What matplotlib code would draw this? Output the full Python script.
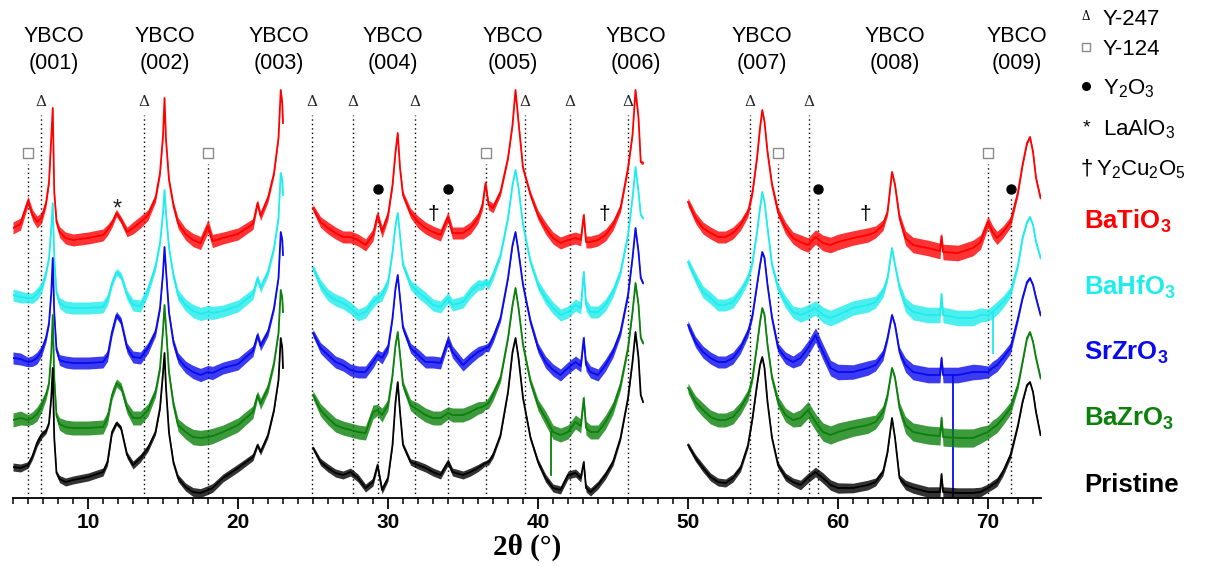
import matplotlib
matplotlib.use("Agg")
import matplotlib.pyplot as plt
from matplotlib.ticker import MultipleLocator, FixedLocator
import numpy as np

plt.rcParams['font.family'] = ['Liberation Sans', 'DejaVu Sans']
plt.rcParams['mathtext.fontset'] = 'custom'
plt.rcParams['mathtext.rm'] = 'Liberation Sans'
plt.rcParams['mathtext.bf'] = 'Liberation Sans:bold'
plt.rcParams['mathtext.it'] = 'Liberation Sans:italic'

# ---------------- data (2theta in degrees, intensity in arbitrary offset units) -------------
two_theta_1 = [5.0, 5.5, 6.0, 6.3, 6.6, 6.9, 7.2, 7.4, 7.55, 7.65, 7.75, 7.9, 8.1, 8.5, 9.0, 10.0,
               11.0, 11.3, 11.6, 11.9, 12.2, 12.6, 13.0, 13.5, 14.0, 14.5, 14.8, 15.0, 15.1, 15.2,
               15.4, 15.7, 16.0, 16.5, 17.0, 17.5, 18.0, 18.3, 19.0, 20.0, 21.0, 21.3, 21.5, 22.0,
               22.4, 22.7, 22.85, 22.95, 23.0]
batio3_1 = [270, 274, 297, 283, 276, 280, 295, 316, 360, 390, 306, 276, 266, 260, 258, 260, 263, 268,
            275, 285, 278, 266, 270, 276, 283, 300, 325, 362, 400, 358, 318, 292, 275, 264, 258, 255,
            272, 257, 260, 264, 274, 295, 282, 300, 325, 360, 408, 395, 375]
bahfo3_1 = [203, 201, 200, 200, 204, 210, 225, 240, 270, 295, 240, 205, 195, 191, 190, 190, 191, 198,
            215, 226, 222, 203, 193, 192, 208, 232, 255, 285, 308, 285, 250, 222, 203, 193, 187, 184,
            186, 185, 187, 192, 204, 220, 210, 226, 250, 280, 325, 318, 303]
srzro3_1 = [140, 139, 136, 137, 140, 147, 160, 175, 205, 240, 185, 148, 138, 136, 135, 135, 136, 142,
            166, 183, 177, 150, 141, 140, 150, 166, 190, 225, 251, 228, 185, 155, 140, 131, 126, 123,
            126, 125, 130, 134, 147, 163, 152, 166, 190, 220, 266, 258, 243]
bazro3_1 = [78, 80, 78, 80, 84, 92, 103, 115, 145, 183, 120, 82, 74, 71, 70, 70, 71, 80, 103, 115, 111,
            90, 80, 80, 88, 106, 130, 168, 193, 170, 125, 93, 73, 66, 61, 60, 61, 62, 66, 73, 86, 103,
            94, 110, 135, 165, 208, 200, 186]
pristine_1 = [31, 30, 33, 42, 55, 63, 67, 75, 100, 130, 60, 25, 19, 16, 18, 21, 26, 36, 66, 75, 70, 43,
              33, 40, 50, 66, 90, 125, 145, 110, 65, 35, 20, 11, 6, 5, 8, 10, 20, 30, 41, 53, 46, 63,
              88, 118, 160, 150, 130]
noise_1 = [1, 1, 0.8, 0.9, 1, 0.9, 0.7, 0.5, 0.3, 0.2, 0.3, 0.6, 0.9, 1, 1, 1, 1, 0.9, 0.7, 0.6, 0.6,
           0.8, 1, 1, 0.9, 0.7, 0.5, 0.3, 0.2, 0.3, 0.5, 0.7, 0.9, 1, 1.1, 1.1, 1.1, 1.1, 1, 1, 0.9,
           0.6, 0.8, 0.7, 0.5, 0.3, 0.2, 0.2, 0.2]

two_theta_2 = [25.0, 25.5, 26.0, 26.5, 27.0, 27.5, 28.0, 28.5, 29.0, 29.3, 29.6, 30.0, 30.3, 30.5,
               30.65, 30.8, 31.0, 31.5, 32.0, 32.5, 33.0, 33.5, 34.0, 34.3, 35.0, 35.5, 36.0, 36.3,
               36.5, 36.7, 37.0, 37.5, 38.0, 38.3, 38.5, 38.7, 39.0, 39.5, 40.0, 40.5, 41.0, 41.5,
               42.0, 42.5, 42.85, 43.05, 43.2, 43.5, 44.0, 44.5, 45.0, 45.5, 46.0, 46.3, 46.5, 46.7,
               46.85, 47.0]
batio3_2 = [290, 276, 270, 265, 261, 261, 258, 253, 263, 283, 266, 283, 313, 346, 365, 330, 303, 285,
            276, 270, 266, 263, 281, 265, 265, 270, 280, 293, 315, 293, 290, 306, 340, 373, 408, 376,
            330, 303, 283, 270, 260, 255, 258, 260, 258, 283, 256, 256, 258, 263, 273, 290, 330, 363,
            408, 380, 336, 335]
bahfo3_2 = [230, 213, 203, 198, 195, 190, 183, 186, 196, 200, 203, 216, 246, 273, 285, 263, 233, 213,
            206, 200, 193, 191, 200, 193, 196, 206, 213, 213, 216, 213, 223, 243, 280, 313, 328, 310,
            273, 236, 213, 200, 190, 183, 186, 193, 190, 226, 193, 186, 186, 193, 206, 226, 263, 300,
            331, 306, 283, 280]
srzro3_2 = [165, 150, 143, 136, 133, 128, 126, 126, 136, 143, 140, 150, 180, 210, 223, 200, 170, 150,
            143, 136, 136, 135, 158, 146, 133, 140, 146, 148, 150, 151, 160, 180, 220, 253, 266, 246,
            213, 176, 150, 136, 128, 123, 130, 136, 132, 160, 133, 126, 123, 133, 146, 166, 203, 240,
            270, 246, 220, 215]
bazro3_2 = [103, 88, 80, 73, 70, 68, 66, 65, 86, 88, 83, 93, 123, 153, 166, 143, 113, 93, 88, 83, 80,
            80, 85, 83, 83, 86, 90, 91, 93, 95, 103, 120, 160, 193, 210, 190, 153, 116, 93, 80, 66, 63,
            66, 76, 72, 100, 70, 66, 66, 76, 90, 113, 150, 186, 215, 193, 160, 155]
pristine_2 = [50, 36, 30, 25, 23, 26, 20, 10, 16, 33, 8, 20, 53, 96, 116, 86, 53, 36, 33, 30, 26, 23,
              36, 26, 23, 26, 30, 33, 35, 36, 43, 63, 106, 146, 160, 140, 100, 60, 36, 20, 10, 8, 23,
              25, 20, 36, 10, 6, 13, 23, 36, 60, 100, 136, 166, 140, 103, 96]
noise_2 = [0.6, 0.9, 1, 1, 1, 1, 1, 1, 1, 0.8, 1, 0.8, 0.5, 0.3, 0.2, 0.3, 0.6, 0.8, 1, 1, 1, 1, 0.9,
           1, 1, 1, 0.9, 0.8, 0.6, 0.8, 0.8, 0.6, 0.4, 0.3, 0.2, 0.3, 0.4, 0.6, 0.8, 1, 1, 1, 1, 1,
           1, 0.5, 1, 1, 1, 1, 0.9, 0.7, 0.5, 0.3, 0.2, 0.3, 0.3, 0.3]

two_theta_3 = [50.0, 50.5, 51.0, 51.5, 52.0, 52.5, 53.0, 53.5, 54.0, 54.3, 54.6, 54.8, 54.95, 55.1,
               55.3, 55.6, 56.0, 56.5, 57.0, 57.5, 58.0, 58.5, 59.0, 59.5, 60.0, 61.0, 62.0, 62.5,
               63.0, 63.3, 63.6, 63.8, 64.1, 64.5, 65.0, 66.0, 66.8, 66.9, 67.0, 68.0, 69.0, 69.5,
               70.0, 70.3, 70.6, 71.0, 71.5, 72.0, 72.3, 72.6, 72.8, 73.0, 73.2, 73.5]
batio3_3 = [296, 280, 270, 265, 261, 261, 265, 273, 286, 306, 340, 370, 388, 376, 346, 313, 286, 270,
            260, 256, 253, 261, 255, 253, 256, 260, 263, 266, 273, 286, 326, 313, 280, 260, 253, 250,
            247, 262, 246, 245, 250, 256, 276, 266, 260, 266, 276, 306, 333, 355, 361, 346, 320, 300]
bahfo3_3 = [236, 220, 206, 200, 193, 193, 196, 206, 220, 236, 266, 290, 306, 296, 270, 233, 210, 196,
            186, 183, 186, 190, 183, 180, 183, 190, 193, 196, 206, 220, 250, 233, 210, 193, 186, 183,
            183, 204, 183, 180, 180, 183, 183, 186, 190, 196, 206, 233, 260, 276, 281, 273, 256, 240]
srzro3_3 = [173, 156, 146, 140, 136, 136, 140, 150, 166, 183, 213, 233, 246, 240, 213, 180, 150, 140,
            136, 140, 150, 163, 146, 130, 126, 126, 130, 133, 143, 160, 183, 173, 146, 133, 126, 123,
            123, 140, 123, 123, 126, 126, 126, 130, 133, 140, 150, 180, 200, 216, 220, 213, 200, 183]
bazro3_3 = [110, 96, 88, 81, 78, 78, 81, 90, 103, 120, 153, 176, 190, 183, 153, 120, 96, 83, 78, 80,
            88, 76, 66, 63, 66, 70, 73, 76, 86, 103, 130, 120, 90, 73, 66, 63, 62, 80, 61, 60, 60, 63,
            66, 70, 73, 80, 90, 113, 136, 160, 166, 156, 140, 120]
pristine_3 = [53, 40, 30, 21, 16, 15, 20, 30, 53, 80, 113, 133, 141, 130, 96, 60, 33, 21, 16, 13, 20,
              26, 20, 13, 10, 10, 13, 16, 26, 46, 80, 60, 20, 13, 10, 6, 6, 24, 6, 5, 5, 6, 10, 13, 16,
              26, 43, 73, 96, 113, 116, 106, 86, 63]
noise_3 = [0.7, 0.9, 1, 1, 1, 1, 1, 0.9, 0.8, 0.6, 0.4, 0.3, 0.2, 0.3, 0.4, 0.6, 0.8, 1, 1, 1.2, 1.2,
           1.2, 1.3, 1.3, 1.3, 1.2, 1.2, 1, 0.9, 0.6, 0.3, 0.4, 0.8, 1.2, 1.3, 1.3, 1.3, 0.6, 1.3, 1.3,
           1.3, 1.2, 1, 1.1, 1.1, 1, 0.9, 0.6, 0.4, 0.3, 0.2, 0.3, 0.4, 0.4]

sample_names = ["BaTiO$_\\mathbf{3}$", "BaHfO$_\\mathbf{3}$", "SrZrO$_\\mathbf{3}$",
                "BaZrO$_\\mathbf{3}$", "Pristine"]
sample_colors = ["#ff0000", "#1fecec", "#0a0aee", "#0b800b", "#000000"]
noise_amp = [6, 6, 6, 7, 4]

# isolated single-point spikes in the scans (series index, 2theta, low, high)
spike_series = [2, 3, 1]
spike_x = [67.65, 40.85, 70.3]
spike_low = [0, 23, 145]
spike_high = [123, 66, 186]

# phase reference lines
y247_pos = [6.85, 13.75, 24.9, 27.65, 31.8, 39.15, 42.1, 46.0, 54.1, 58.05]
y124_pos = [5.98, 17.98, 36.53, 56.0, 69.98]
y2o3_pos = [29.3, 34.0, 58.64, 71.53]
y2cu2o5_pos = [33.0, 44.4, 61.84]
laalo3_pos = [11.95]

ybco_labels = ["(001)", "(002)", "(003)", "(004)", "(005)", "(006)", "(007)", "(008)", "(009)"]
ybco_pos = [7.7, 15.1, 22.7, 30.3, 38.3, 46.5, 54.9, 63.8, 71.9]

# ---------------- figure -------------
W, H = 1206, 567
fig = plt.figure(figsize=(W / 100, H / 100), dpi=100)
ax = fig.add_axes([13 / W, (H - 498) / H, 1027.5 / W, 498 / H])
ax.set_xlim(5, 73.5)
ax.set_ylim(0, 498)

segments = [
    (two_theta_1, [batio3_1, bahfo3_1, srzro3_1, bazro3_1, pristine_1], noise_1),
    (two_theta_2, [batio3_2, bahfo3_2, srzro3_2, bazro3_2, pristine_2], noise_2),
    (two_theta_3, [batio3_3, bahfo3_3, srzro3_3, bazro3_3, pristine_3], noise_3),
]

dots = (0, (1, 2.2))
for p in y247_pos:
    ax.plot([p, p], [0, 383], color='black', lw=1.0, ls=dots, zorder=1)
    ax.text(p, 396, 'Δ', ha='center', va='center', fontsize=11,
            family=['DejaVu Serif'], color='#222222', zorder=5)
for p in y124_pos:
    ax.plot([p, p], [0, 334], color='black', lw=1.0, ls=dots, zorder=1)
    ax.plot([p], [345], marker='s', ms=7.5, mfc='white', mec='#8a8a8a', mew=1.0, zorder=5)
for p in y2o3_pos:
    ax.plot([p, p], [0, 302], color='black', lw=1.0, ls=dots, zorder=1)
    ax.plot([p], [309], marker='o', ms=6.5, color='black', zorder=5)
for p in y2cu2o5_pos:
    ax.text(p, 284, '†', ha='center', va='center', fontsize=15, color='black', zorder=5)
for p in laalo3_pos:
    ax.text(p, 288, '*', ha='center', va='center', fontsize=17, color='#222222', zorder=5)

for xs, traces, prof in segments:
    xs = np.asarray(xs, dtype=float)
    prof = np.asarray(prof, dtype=float)
    for i, ys in enumerate(traces):
        ys = np.asarray(ys, dtype=float)
        band = prof * noise_amp[i]
        ax.fill_between(xs, ys - band, ys + band, color=sample_colors[i], alpha=0.8, lw=0,
                        zorder=2 + i * 0.1)
        ax.plot(xs, ys, color=sample_colors[i], lw=1.3, zorder=2.05 + i * 0.1)

for s, x, lo, hi in zip(spike_series, spike_x, spike_low, spike_high):
    ax.plot([x, x], [lo, hi], color=sample_colors[s], lw=1.3, zorder=2.05 + s * 0.1)

for lab, p in zip(ybco_labels, ybco_pos):
    ax.text(p, 461, 'YBCO', ha='center', va='center', fontsize=15.5, clip_on=False)
    ax.text(p, 435, lab, ha='center', va='center', fontsize=15.5, clip_on=False)

for side in ['top', 'left', 'right']:
    ax.spines[side].set_visible(False)
ax.spines['bottom'].set_linewidth(1.3)
ax.set_yticks([])
ax.xaxis.set_major_locator(FixedLocator([10, 20, 30, 40, 50, 60, 70]))
ax.xaxis.set_minor_locator(MultipleLocator(1))
ax.tick_params(axis='x', which='major', direction='out', length=8, width=1.3, pad=3,
               labelsize=15)
ax.tick_params(axis='x', which='minor', direction='out', length=4.5, width=1.1)
for t in ax.get_xticklabels():
    t.set_fontweight('bold')

fig.text(527 / W, 1 - 547 / H, '2θ (°)', ha='center', va='center', fontsize=21,
         family=['Liberation Serif'], weight='bold')

# legend of phases (right side)
def fy(ypx):
    return 1 - ypx / H

fig.text(1086 / W, fy(17), 'Δ', ha='center', va='center', fontsize=8.5, family=['DejaVu Serif'])
fig.text(1103 / W, fy(25), 'Y-247', ha='left', va='baseline', fontsize=16)
fig.lines.append(plt.Line2D([1086 / W], [fy(47)], marker='s', ms=6, mfc='white', mec='#8a8a8a',
                            mew=1.0, transform=fig.transFigure))
fig.text(1103 / W, fy(55), 'Y-124', ha='left', va='baseline', fontsize=16)
fig.lines.append(plt.Line2D([1086 / W], [fy(86)], marker='o', ms=5.5, color='black',
                            transform=fig.transFigure))
fig.text(1103 / W, fy(94), 'Y$_2$O$_3$', ha='left', va='baseline', fontsize=16)
fig.text(1086 / W, fy(128), '*', ha='center', va='center', fontsize=14)
fig.text(1103 / W, fy(135), 'LaAlO$_3$', ha='left', va='baseline', fontsize=16)
fig.text(1081 / W, fy(175), '†', ha='left', va='baseline', fontsize=16)
fig.text(1096 / W, fy(175), 'Y$_2$Cu$_2$O$_5$', ha='left', va='baseline', fontsize=16)

label_y = [220, 286, 351, 417, 483]
for name, col, yy in zip(sample_names, sample_colors, label_y):
    fig.text(1084 / W, fy(yy + 9), name, ha='left', va='baseline', fontsize=18.5,
             weight='bold', color=col)

fig.savefig('out.png', dpi=100)
